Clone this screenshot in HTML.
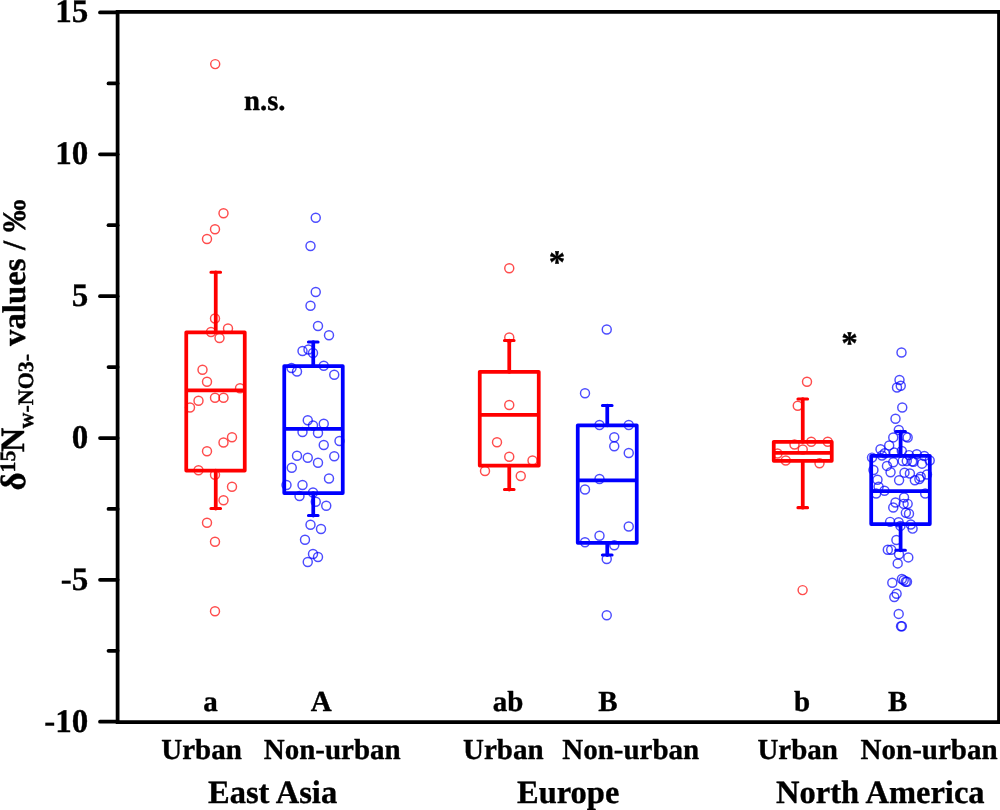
<!DOCTYPE html>
<html lang="en"><head><meta charset="utf-8"><title>Box plot</title>
<style>
html,body{margin:0;padding:0;background:#fff;}
body{width:1000px;height:810px;overflow:hidden;}
svg{display:block;}
text{font-family:"Liberation Serif","Times New Roman",serif;font-weight:bold;fill:#000;stroke:#000;stroke-width:0.35px;stroke-linejoin:round;text-rendering:geometricPrecision;}
</style></head><body>
<svg width="1000" height="810" viewBox="0 0 1000 810">
<rect width="1000" height="810" fill="#fff"/>
<g fill="none" stroke="#ff0000" stroke-opacity="0.7" stroke-width="1.45"><circle cx="215.20" cy="64.10" r="4.5"/><circle cx="223.50" cy="213.25" r="4.5"/><circle cx="215.00" cy="229.25" r="4.5"/><circle cx="207.00" cy="239.00" r="4.5"/><circle cx="215.00" cy="318.50" r="4.5"/><circle cx="228.00" cy="328.50" r="4.5"/><circle cx="211.00" cy="332.00" r="4.5"/><circle cx="219.50" cy="338.00" r="4.5"/><circle cx="202.50" cy="369.75" r="4.5"/><circle cx="207.00" cy="381.75" r="4.5"/><circle cx="240.00" cy="388.25" r="4.5"/><circle cx="198.50" cy="400.75" r="4.5"/><circle cx="215.00" cy="397.75" r="4.5"/><circle cx="223.50" cy="397.75" r="4.5"/><circle cx="190.00" cy="407.50" r="4.5"/><circle cx="232.00" cy="437.25" r="4.5"/><circle cx="223.50" cy="442.50" r="4.5"/><circle cx="207.00" cy="451.25" r="4.5"/><circle cx="198.50" cy="470.25" r="4.5"/><circle cx="215.00" cy="474.75" r="4.5"/><circle cx="232.00" cy="486.75" r="4.5"/><circle cx="223.50" cy="500.25" r="4.5"/><circle cx="207.00" cy="522.75" r="4.5"/><circle cx="215.00" cy="541.75" r="4.5"/><circle cx="215.00" cy="611.25" r="4.5"/><circle cx="509.25" cy="268.25" r="4.5"/><circle cx="509.25" cy="337.50" r="4.5"/><circle cx="509.25" cy="405.00" r="4.5"/><circle cx="497.00" cy="442.25" r="4.5"/><circle cx="509.25" cy="456.75" r="4.5"/><circle cx="532.50" cy="460.50" r="4.5"/><circle cx="485.00" cy="471.00" r="4.5"/><circle cx="520.75" cy="476.00" r="4.5"/><circle cx="807.00" cy="381.75" r="4.5"/><circle cx="797.75" cy="405.75" r="4.5"/><circle cx="794.50" cy="444.50" r="4.5"/><circle cx="811.25" cy="441.75" r="4.5"/><circle cx="827.75" cy="441.75" r="4.5"/><circle cx="802.75" cy="449.50" r="4.5"/><circle cx="777.50" cy="453.50" r="4.5"/><circle cx="785.75" cy="460.50" r="4.5"/><circle cx="819.50" cy="463.25" r="4.5"/><circle cx="802.60" cy="590.10" r="4.5"/></g>
<g fill="none" stroke="#0000ff" stroke-opacity="0.7" stroke-width="1.45"><circle cx="315.75" cy="217.75" r="4.5"/><circle cx="310.50" cy="246.00" r="4.5"/><circle cx="315.75" cy="292.00" r="4.5"/><circle cx="310.50" cy="305.75" r="4.5"/><circle cx="318.00" cy="326.00" r="4.5"/><circle cx="329.00" cy="335.25" r="4.5"/><circle cx="302.50" cy="351.00" r="4.5"/><circle cx="308.50" cy="349.50" r="4.5"/><circle cx="313.00" cy="353.00" r="4.5"/><circle cx="291.50" cy="368.00" r="4.5"/><circle cx="297.00" cy="371.50" r="4.5"/><circle cx="323.75" cy="365.75" r="4.5"/><circle cx="334.25" cy="374.75" r="4.5"/><circle cx="307.75" cy="420.25" r="4.5"/><circle cx="313.00" cy="425.50" r="4.5"/><circle cx="323.75" cy="423.75" r="4.5"/><circle cx="302.50" cy="432.00" r="4.5"/><circle cx="318.00" cy="433.00" r="4.5"/><circle cx="339.50" cy="441.00" r="4.5"/><circle cx="323.75" cy="445.00" r="4.5"/><circle cx="297.00" cy="455.75" r="4.5"/><circle cx="307.75" cy="457.75" r="4.5"/><circle cx="334.25" cy="456.25" r="4.5"/><circle cx="318.00" cy="462.75" r="4.5"/><circle cx="291.75" cy="467.75" r="4.5"/><circle cx="329.00" cy="478.50" r="4.5"/><circle cx="286.50" cy="485.00" r="4.5"/><circle cx="302.50" cy="485.00" r="4.5"/><circle cx="313.00" cy="492.50" r="4.5"/><circle cx="299.50" cy="496.00" r="4.5"/><circle cx="315.75" cy="501.75" r="4.5"/><circle cx="326.25" cy="505.75" r="4.5"/><circle cx="310.50" cy="524.75" r="4.5"/><circle cx="321.00" cy="529.00" r="4.5"/><circle cx="305.00" cy="539.75" r="4.5"/><circle cx="313.00" cy="554.00" r="4.5"/><circle cx="318.00" cy="557.00" r="4.5"/><circle cx="307.75" cy="562.00" r="4.5"/><circle cx="606.75" cy="329.50" r="4.5"/><circle cx="585.00" cy="393.25" r="4.5"/><circle cx="599.50" cy="425.00" r="4.5"/><circle cx="628.75" cy="425.00" r="4.5"/><circle cx="614.25" cy="437.25" r="4.5"/><circle cx="614.25" cy="446.25" r="4.5"/><circle cx="628.75" cy="453.00" r="4.5"/><circle cx="599.50" cy="479.00" r="4.5"/><circle cx="585.00" cy="489.50" r="4.5"/><circle cx="628.75" cy="526.50" r="4.5"/><circle cx="599.50" cy="535.75" r="4.5"/><circle cx="585.00" cy="542.25" r="4.5"/><circle cx="614.25" cy="545.25" r="4.5"/><circle cx="606.75" cy="559.00" r="4.5"/><circle cx="606.75" cy="615.25" r="4.5"/><circle cx="901.50" cy="352.50" r="4.5"/><circle cx="899.50" cy="380.00" r="4.5"/><circle cx="897.00" cy="387.50" r="4.5"/><circle cx="900.75" cy="385.75" r="4.5"/><circle cx="902.25" cy="407.50" r="4.5"/><circle cx="895.50" cy="418.75" r="4.5"/><circle cx="898.80" cy="429.90" r="4.5"/><circle cx="893.25" cy="437.40" r="4.5"/><circle cx="905.90" cy="436.65" r="4.5"/><circle cx="907.65" cy="437.55" r="4.5"/><circle cx="889.20" cy="445.40" r="4.5"/><circle cx="880.50" cy="449.25" r="4.5"/><circle cx="884.70" cy="453.30" r="4.5"/><circle cx="894.15" cy="452.40" r="4.5"/><circle cx="901.80" cy="451.05" r="4.5"/><circle cx="909.00" cy="455.10" r="4.5"/><circle cx="916.80" cy="454.20" r="4.5"/><circle cx="924.30" cy="456.00" r="4.5"/><circle cx="872.00" cy="457.60" r="4.5"/><circle cx="882.00" cy="455.55" r="4.5"/><circle cx="929.70" cy="460.50" r="4.5"/><circle cx="902.70" cy="460.95" r="4.5"/><circle cx="906.75" cy="460.95" r="4.5"/><circle cx="912.15" cy="461.40" r="4.5"/><circle cx="913.50" cy="461.85" r="4.5"/><circle cx="922.00" cy="463.65" r="4.5"/><circle cx="893.25" cy="462.30" r="4.5"/><circle cx="886.95" cy="465.90" r="4.5"/><circle cx="890.55" cy="472.20" r="4.5"/><circle cx="873.45" cy="469.95" r="4.5"/><circle cx="904.50" cy="472.65" r="4.5"/><circle cx="909.90" cy="473.55" r="4.5"/><circle cx="927.00" cy="474.45" r="4.5"/><circle cx="920.70" cy="476.70" r="4.5"/><circle cx="919.35" cy="478.95" r="4.5"/><circle cx="914.85" cy="480.30" r="4.5"/><circle cx="899.10" cy="480.30" r="4.5"/><circle cx="877.50" cy="479.80" r="4.5"/><circle cx="878.60" cy="486.70" r="4.5"/><circle cx="884.50" cy="490.70" r="4.5"/><circle cx="876.15" cy="493.50" r="4.5"/><circle cx="925.20" cy="493.50" r="4.5"/><circle cx="904.05" cy="497.55" r="4.5"/><circle cx="895.50" cy="502.50" r="4.5"/><circle cx="903.60" cy="503.85" r="4.5"/><circle cx="907.65" cy="503.85" r="4.5"/><circle cx="893.25" cy="507.45" r="4.5"/><circle cx="905.85" cy="512.85" r="4.5"/><circle cx="909.00" cy="513.75" r="4.5"/><circle cx="890.10" cy="521.85" r="4.5"/><circle cx="898.65" cy="522.30" r="4.5"/><circle cx="910.80" cy="524.55" r="4.5"/><circle cx="900.45" cy="525.90" r="4.5"/><circle cx="912.60" cy="528.60" r="4.5"/><circle cx="896.40" cy="540.00" r="4.5"/><circle cx="887.80" cy="549.80" r="4.5"/><circle cx="891.20" cy="549.80" r="4.5"/><circle cx="899.00" cy="554.30" r="4.5"/><circle cx="908.30" cy="557.40" r="4.5"/><circle cx="897.70" cy="563.40" r="4.5"/><circle cx="892.30" cy="582.70" r="4.5"/><circle cx="901.90" cy="579.00" r="4.5"/><circle cx="903.70" cy="580.30" r="4.5"/><circle cx="905.70" cy="581.70" r="4.5"/><circle cx="907.00" cy="581.70" r="4.5"/><circle cx="896.60" cy="593.70" r="4.5"/><circle cx="894.30" cy="597.00" r="4.5"/><circle cx="898.70" cy="613.90" r="4.5"/><circle cx="901.00" cy="626.30" r="4.5"/><circle cx="901.90" cy="626.30" r="4.5"/></g>
<g fill="none" stroke="#ff0000" stroke-width="3.75" stroke-linecap="round" stroke-linejoin="round"><rect x="186.25" y="332.25" width="58.5" height="138.25"/><line x1="186.25" y1="390.25" x2="244.75" y2="390.25" stroke-linecap="butt"/><line x1="215.75" y1="332.25" x2="215.75" y2="272.25"/><line x1="215.75" y1="470.5" x2="215.75" y2="508.5"/><path stroke-width="3.1" d="M210.95 272.25H220.55M210.95 508.5H220.55"/></g>
<g fill="none" stroke="#0000ff" stroke-width="3.75" stroke-linecap="round" stroke-linejoin="round"><rect x="284.25" y="366" width="58.5" height="127"/><line x1="284.25" y1="428.75" x2="342.75" y2="428.75" stroke-linecap="butt"/><line x1="313.25" y1="366" x2="313.25" y2="342"/><line x1="313.25" y1="493" x2="313.25" y2="515.5"/><path stroke-width="3.1" d="M308.45 342H318.05M308.45 515.5H318.05"/></g>
<g fill="none" stroke="#ff0000" stroke-width="3.75" stroke-linecap="round" stroke-linejoin="round"><rect x="479.75" y="371.75" width="59.0" height="93.75"/><line x1="479.75" y1="414.75" x2="538.75" y2="414.75" stroke-linecap="butt"/><line x1="509.25" y1="371.75" x2="509.25" y2="340.5"/><line x1="509.25" y1="465.5" x2="509.25" y2="489.5"/><path stroke-width="3.1" d="M504.45 340.5H514.05M504.45 489.5H514.05"/></g>
<g fill="none" stroke="#0000ff" stroke-width="3.75" stroke-linecap="round" stroke-linejoin="round"><rect x="577.75" y="425.25" width="59.0" height="117.5"/><line x1="577.75" y1="480.25" x2="636.75" y2="480.25" stroke-linecap="butt"/><line x1="607.25" y1="425.25" x2="607.25" y2="405.5"/><line x1="607.25" y1="542.75" x2="607.25" y2="555"/><path stroke-width="3.1" d="M602.45 405.5H612.05M602.45 555H612.05"/></g>
<g fill="none" stroke="#ff0000" stroke-width="3.75" stroke-linecap="round" stroke-linejoin="round"><rect x="773.75" y="441.75" width="58.0" height="19.0"/><line x1="773.75" y1="452.75" x2="831.75" y2="452.75" stroke-linecap="butt"/><line x1="802.75" y1="441.75" x2="802.75" y2="399"/><line x1="802.75" y1="460.75" x2="802.75" y2="507.65"/><path stroke-width="3.1" d="M797.95 399H807.55M797.95 507.65H807.55"/></g>
<g fill="none" stroke="#0000ff" stroke-width="3.75" stroke-linecap="round" stroke-linejoin="round"><rect x="871.2" y="455.75" width="58.59999999999991" height="68.35000000000002"/><line x1="871.2" y1="491" x2="929.8" y2="491" stroke-linecap="butt"/><line x1="900.6" y1="455.75" x2="900.6" y2="431.5"/><line x1="900.6" y1="524.1" x2="900.6" y2="550.3"/><path stroke-width="3.1" d="M895.8000000000001 431.5H905.4M895.8000000000001 550.3H905.4"/></g>
<g fill="none" stroke="#000" stroke-width="3.75" stroke-linecap="round"><path d="M117.6 11.9H999V722.2H117.6Z" stroke-linejoin="miter"/><line x1="100" y1="721.70" x2="117.6" y2="721.70"/><line x1="100" y1="579.85" x2="117.6" y2="579.85"/><line x1="100" y1="438.00" x2="117.6" y2="438.00"/><line x1="100" y1="296.15" x2="117.6" y2="296.15"/><line x1="100" y1="154.30" x2="117.6" y2="154.30"/><line x1="100" y1="12.45" x2="117.6" y2="12.45"/><line x1="108.5" y1="83.38" x2="117.6" y2="83.38"/><line x1="108.5" y1="225.22" x2="117.6" y2="225.22"/><line x1="108.5" y1="367.07" x2="117.6" y2="367.07"/><line x1="108.5" y1="508.93" x2="117.6" y2="508.93"/><line x1="108.5" y1="650.77" x2="117.6" y2="650.77"/></g>
<g style="filter:grayscale(1)"><text x="88.3" y="731.50" font-size="33" text-anchor="end">-10</text><text x="88.3" y="589.65" font-size="33" text-anchor="end">-5</text><text x="88.3" y="447.80" font-size="33" text-anchor="end">0</text><text x="88.3" y="305.95" font-size="33" text-anchor="end">5</text><text x="88.3" y="164.10" font-size="33" text-anchor="end">10</text><text x="88.3" y="22.25" font-size="33" text-anchor="end">15</text>
<text x="210.6" y="710.5" font-size="29" text-anchor="middle">a</text><text x="321.2" y="710.5" font-size="29" text-anchor="middle">A</text><text x="508" y="710.5" font-size="29" text-anchor="middle">ab</text><text x="608" y="710.5" font-size="29" text-anchor="middle">B</text><text x="802" y="710.5" font-size="29" text-anchor="middle">b</text><text x="897.6" y="710.5" font-size="29" text-anchor="middle">B</text>
<text x="161.20000000000002" y="758.7" font-size="29">Urban</text><text x="463.0" y="758.7" font-size="29">Urban</text><text x="757.4" y="758.7" font-size="29">Urban</text><text x="263.7" y="758.7" font-size="29">Non-urban</text><text x="562.2" y="758.7" font-size="29">Non-urban</text><text x="860.6" y="758.7" font-size="29">Non-urban</text>
<text x="208.0" y="802.8" font-size="32.5">East Asia</text><text x="517.0" y="802.8" font-size="32.5">Europe</text><text x="776.1" y="802.8" font-size="32.5">North America</text>
<text x="244" y="110" font-size="28.7">n.s.</text><text x="548.8" y="272.6" font-size="33">*</text><text x="841.3" y="354.1" font-size="33">*</text>
<g transform="rotate(-90)"><text x="-490.4" y="25.3" font-size="35">δ</text><text x="-472.6" y="14.5" font-size="22">15</text><text x="-452.3" y="24.3" font-size="34">N</text><text x="-428.4" y="33.3" font-size="22">w-NO3-</text><text x="-346.0" y="25.3" font-size="32.8">values</text><text x="-250.0" y="25.3" font-size="32.8">/</text><text x="-232.2" y="25.0" font-size="32.8">‰</text></g>
</g>
</svg>
</body></html>
